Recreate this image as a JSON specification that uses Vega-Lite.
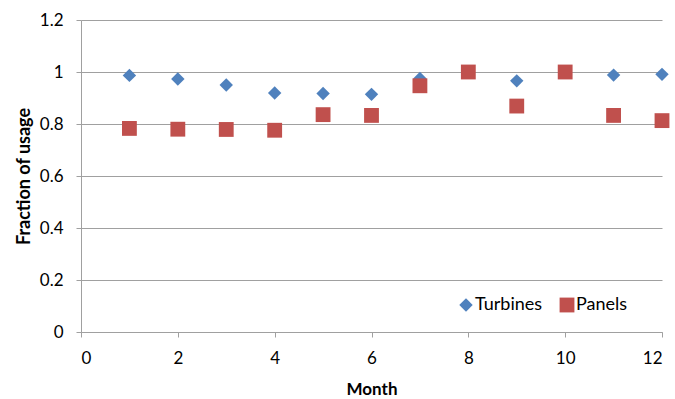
{
  "$schema": "https://vega.github.io/schema/vega-lite/v6.json",
  "autosize": {"type": "none"},
  "width": 581,
  "height": 312,
  "padding": {"left": 81, "top": 20, "right": 13, "bottom": 67},
  "background": "white",
  "config": {
    "view": {"stroke": null},
    "font": "Lato"
  },
  "data": {
    "values": [
      {"Month": 1, "Series": "Turbines", "Value": 0.987},
      {"Month": 2, "Series": "Turbines", "Value": 0.973},
      {"Month": 3, "Series": "Turbines", "Value": 0.95},
      {"Month": 4, "Series": "Turbines", "Value": 0.919},
      {"Month": 5, "Series": "Turbines", "Value": 0.917},
      {"Month": 6, "Series": "Turbines", "Value": 0.914},
      {"Month": 7, "Series": "Turbines", "Value": 0.975},
      {"Month": 8, "Series": "Turbines", "Value": 1.0},
      {"Month": 9, "Series": "Turbines", "Value": 0.966},
      {"Month": 10, "Series": "Turbines", "Value": 1.0},
      {"Month": 11, "Series": "Turbines", "Value": 0.988},
      {"Month": 12, "Series": "Turbines", "Value": 0.991},
      {"Month": 1, "Series": "Panels", "Value": 0.783},
      {"Month": 2, "Series": "Panels", "Value": 0.78},
      {"Month": 3, "Series": "Panels", "Value": 0.779},
      {"Month": 4, "Series": "Panels", "Value": 0.776},
      {"Month": 5, "Series": "Panels", "Value": 0.836},
      {"Month": 6, "Series": "Panels", "Value": 0.833},
      {"Month": 7, "Series": "Panels", "Value": 0.947},
      {"Month": 8, "Series": "Panels", "Value": 1.0},
      {"Month": 9, "Series": "Panels", "Value": 0.869},
      {"Month": 10, "Series": "Panels", "Value": 1.0},
      {"Month": 11, "Series": "Panels", "Value": 0.833},
      {"Month": 12, "Series": "Panels", "Value": 0.813}
    ]
  },
  "mark": {"type": "point", "filled": true, "opacity": 1},
  "encoding": {
    "x": {
      "field": "Month",
      "type": "quantitative",
      "scale": {"domain": [0, 12], "nice": false},
      "axis": {
        "title": "Month",
        "values": [0, 2, 4, 6, 8, 10, 12],
        "grid": false,
        "domainColor": "#A0A0A0",
        "tickColor": "#A0A0A0",
        "tickSize": 5,
        "labelFontSize": 17,
        "labelColor": "#000000",
        "labelPadding": 13,
        "titleFontSize": 17,
        "titleFontWeight": "bold",
        "titleColor": "#000000",
        "titlePadding": 15
      }
    },
    "y": {
      "field": "Value",
      "type": "quantitative",
      "scale": {"domain": [0, 1.2], "nice": false},
      "axis": {
        "title": "Fraction of usage",
        "values": [0, 0.2, 0.4, 0.6, 0.8, 1, 1.2],
        "format": "~f",
        "grid": true,
        "gridColor": "#A0A0A0",
        "gridWidth": 1,
        "domainColor": "#A0A0A0",
        "tickColor": "#A0A0A0",
        "tickSize": 5,
        "labelFontSize": 17,
        "labelColor": "#000000",
        "labelPadding": 13,
        "titleFontSize": 18,
        "titleFontWeight": "bold",
        "titleColor": "#000000",
        "titlePadding": 6
      }
    },
    "color": {
      "field": "Series",
      "type": "nominal",
      "scale": {"domain": ["Turbines", "Panels"], "range": ["#4F81BD", "#C0504D"]},
      "legend": {
        "title": null,
        "orient": "none",
        "legendX": 376,
        "legendY": 276,
        "direction": "horizontal",
        "labelFontSize": 18,
        "labelColor": "#000000",
        "labelOffset": 0,
        "symbolSize": 140,
        "symbolOpacity": 1,
        "columnPadding": 15
      }
    },
    "shape": {
      "field": "Series",
      "type": "nominal",
      "scale": {"domain": ["Turbines", "Panels"], "range": ["diamond", "square"]},
      "legend": null
    },
    "size": {
      "field": "Series",
      "type": "nominal",
      "scale": {"domain": ["Turbines", "Panels"], "range": [180, 220]},
      "legend": null
    },
    "order": {"field": "Series", "sort": "descending"}
  }
}
